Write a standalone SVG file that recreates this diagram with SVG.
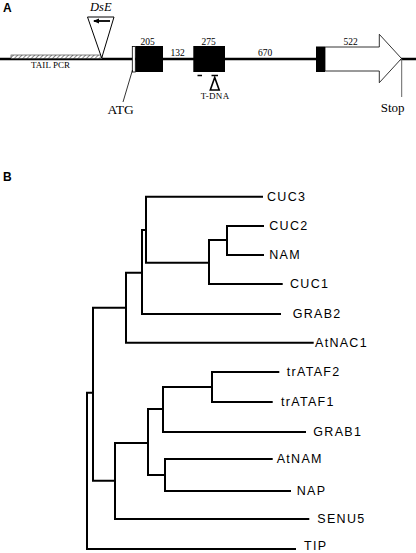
<svg xmlns="http://www.w3.org/2000/svg" width="416" height="553" viewBox="0 0 416 553">
<style>
.lbl{font-family:"Liberation Sans",Arial,sans-serif;font-weight:bold;font-size:12px;fill:#000}
.ser{font-family:"Liberation Serif","Times New Roman",serif;fill:#000}
.tx{font-family:"Liberation Sans",Arial,sans-serif;font-size:12.5px;letter-spacing:1.3px;fill:#000}
.br{fill:none;stroke:#000;stroke-width:2;stroke-linecap:square}
</style>
<defs>
<pattern id="hatch" width="3" height="3" patternUnits="userSpaceOnUse" patternTransform="rotate(45)">
<rect width="3" height="3" fill="#fff"/>
<line x1="0" y1="0" x2="0" y2="3" stroke="#555" stroke-width="1.4"/>
</pattern>
<marker id="ah" markerWidth="6" markerHeight="6" refX="1" refY="3" orient="auto" markerUnits="userSpaceOnUse">
<path d="M6,0.5 L0,3 L6,5.5 z" fill="#000"/>
</marker>
</defs>
<rect width="416" height="553" fill="#fff"/>
<text class="lbl" x="3" y="12">A</text>
<text class="lbl" x="3" y="181">B</text>
<g id="panelA">
<g id="gene-line"><line x1="0" y1="59" x2="416" y2="59" stroke="#000" stroke-width="2.5"/></g>
<g id="tailpcr">
<rect x="11" y="55" width="91" height="3.5" fill="url(#hatch)" stroke="#333" stroke-width="0.6"/>
<text class="ser" x="31" y="67.5" font-size="9" textLength="39">TAIL PCR</text>
</g>
<g id="dse">
<polygon points="87.5,17 114,17 101.7,58" fill="#fff" stroke="#000" stroke-width="1"/>
<line x1="94" y1="21" x2="110" y2="21" stroke="#000" stroke-width="1.8" marker-start="url(#ah)"/>
<text class="ser" x="90" y="11" font-size="12.5" font-style="italic">DsE</text>
</g>
<g id="atg">
<rect x="132.3" y="46.5" width="3" height="25.5" fill="#fff" stroke="#000" stroke-width="0.8"/>
<line x1="132.5" y1="70" x2="123" y2="102" stroke="#000" stroke-width="0.8"/>
<text class="ser" x="107.5" y="114" font-size="13.5">ATG</text>
</g>
<g id="exon1">
<rect x="135.5" y="46" width="27.5" height="26" fill="#000"/>
<text class="ser" x="147.5" y="45" font-size="9.5" text-anchor="middle">205</text>
</g>
<text class="ser" x="177.5" y="56" font-size="9.5" text-anchor="middle">132</text>
<g id="exon2">
<rect x="193.3" y="46" width="31.7" height="26" fill="#000"/>
<text class="ser" x="208.5" y="45" font-size="9.5" text-anchor="middle">275</text>
<line x1="197.5" y1="75.5" x2="202" y2="75.5" stroke="#000" stroke-width="1.5"/>
<line x1="211.5" y1="75.5" x2="218" y2="75.5" stroke="#000" stroke-width="1.5"/>
</g>
<g id="tdna">
<polygon points="214.7,77.5 210.3,90 219.2,90" fill="#fff" stroke="#000" stroke-width="1.6"/>
<text class="ser" x="200.7" y="99" font-size="9" textLength="28.5">T-DNA</text>
</g>
<text class="ser" x="265" y="56" font-size="9.5" text-anchor="middle">670</text>
<g id="exon3">
<rect x="316" y="46.5" width="9" height="25.5" fill="#000"/>
<polygon points="325,47 379.3,47 379.3,34.3 401.5,58.5 379.3,82.7 379.3,71 325,71" fill="#fff" stroke="#000" stroke-width="0.8"/>
<text class="ser" x="350.7" y="45" font-size="9.5" text-anchor="middle">522</text>
</g>
<g id="stop">
<line x1="401.7" y1="59" x2="401.7" y2="97" stroke="#666" stroke-width="1"/>
<text class="ser" x="380.7" y="112" font-size="13">Stop</text>
</g>
</g>
<g id="connectors">
<path class="br" d="M146,196.7 H262 M146,196.7 V262.7 H209"/>
<path class="br" d="M227,226 H263 M227,226 V255 H263"/>
<path class="br" d="M209,240 H227 M209,240 V284 H281.7"/>
<path class="br" d="M142,230 H146 M142,230 V314 H280"/>
<path class="br" d="M126,272.7 H142 M126,272.7 V342.7 H312.7"/>
<path class="br" d="M93,307.7 H126 M93,307.7 V480.7 H115"/>
<path class="br" d="M87,392.7 H93 M87,392.7 V549 H295"/>
<path class="br" d="M115,443 H148 M115,443 V519 H308.3"/>
<path class="br" d="M148,409 H163 M148,409 V475 H165"/>
<path class="br" d="M212,372 H278.3 M212,372 V402 H271.7"/>
<path class="br" d="M163,387 H212 M163,387 V432 H305"/>
<path class="br" d="M165,459 H271.7 M165,459 V491 H290"/>
</g>
<g id="leaf-CUC3"><text class="tx" x="267" y="200.7">CUC3</text></g>
<g id="leaf-CUC2"><text class="tx" x="269.3" y="230">CUC2</text></g>
<g id="leaf-NAM"><text class="tx" x="269.3" y="259">NAM</text></g>
<g id="leaf-CUC1"><text class="tx" x="290" y="288">CUC1</text></g>
<g id="leaf-GRAB2"><text class="tx" x="292.7" y="318">GRAB2</text></g>
<g id="leaf-AtNAC1"><text class="tx" x="315" y="346.7">AtNAC1</text></g>
<g id="leaf-trATAF2"><text class="tx" x="286.7" y="376">trATAF2</text></g>
<g id="leaf-trATAF1"><text class="tx" x="281" y="406">trATAF1</text></g>
<g id="leaf-GRAB1"><text class="tx" x="313.3" y="436">GRAB1</text></g>
<g id="leaf-AtNAM"><text class="tx" x="276.7" y="463">AtNAM</text></g>
<g id="leaf-NAP"><text class="tx" x="296.7" y="495">NAP</text></g>
<g id="leaf-SENU5"><text class="tx" x="317.3" y="523">SENU5</text></g>
<g id="leaf-TIP"><text class="tx" x="304" y="550">TIP</text></g>
</svg>
